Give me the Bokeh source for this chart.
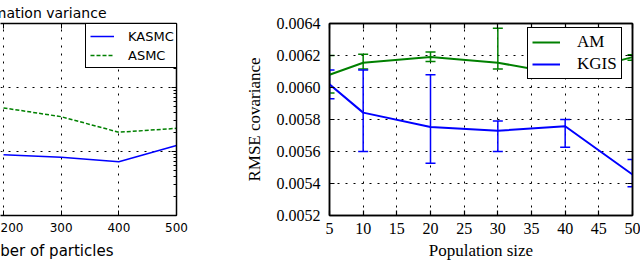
from bokeh.plotting import figure
from bokeh.layouts import row
from bokeh.models import (Range1d, LinearAxis, FixedTicker, LogTicker, Legend,
                          LegendItem, Title, CustomJSTickFormatter)
from bokeh.embed import file_html
from bokeh.resources import INLINE

# ---------------- left panel data (estimation variance) ----------------
particles = [200, 300, 400, 500]
kasmc = [8.9e-3, 8.1e-3, 6.9e-3, 1.24e-2]
asmc = [4.8e-2, 3.5e-2, 2.0e-2, 2.3e-2]
particle_ticks = [200, 300, 400, 500]

# ---------------- right panel data (RMSE covariance) ----------------
pop_size = [5, 10, 20, 30, 40, 50]
am_mean = [0.00608, 0.006155, 0.00619, 0.006155, 0.00608, 0.00619]
am_upper = [0.00620, 0.006208, 0.006222, 0.00637, 0.00610, 0.006205]
am_lower = [0.005965, 0.006115, 0.006162, 0.006115, 0.00607, 0.00617]
kgis_mean = [0.00602, 0.005843, 0.005753, 0.00573, 0.005758, 0.005456]
kgis_upper = [0.00611, 0.00611, 0.00608, 0.00579, 0.0058, 0.00555]
kgis_lower = [0.00593, 0.0056, 0.005526, 0.0056, 0.005627, 0.00538]
pop_ticks = [5, 10, 15, 20, 25, 30, 35, 40, 45, 50]
rmse_ticks = [0.0052, 0.0054, 0.0056, 0.0058, 0.0060, 0.0062, 0.0064]
rmse_labels = ["0.0052", "0.0054", "0.0056", "0.0058", "0.0060", "0.0062", "0.0064"]

BLUE = "#0000ff"
GREEN = "#008000"
SANS = "DejaVu Sans"
SERIF = "Liberation Serif"


def blank_labels(ax):
    ax.formatter = CustomJSTickFormatter(code="return ''")
    ax.major_label_standoff = 0
    ax.major_label_text_font_size = "1px"


# ======================= left figure =======================
p1 = figure(width=200, height=264, x_range=Range1d(194.8, 500),
            y_range=Range1d(1e-3, 1), y_axis_type="log",
            y_axis_location="right", output_backend="svg",
            toolbar_location=None, min_border_left=0, min_border_right=24,
            min_border_top=23, min_border_bottom=48)
p1.outline_line_color = None
p1.background_fill_color = "white"

p1.title.text = "Estimation variance"
p1.title.align = "right"
p1.title.offset = 70
p1.title.text_font = SANS
p1.title.text_font_size = "14px"
p1.title.text_font_style = "normal"
p1.title.text_color = "black"
p1.title.standoff = 2
p1.title.vertical_align = "top"

xa = p1.xaxis[0]
xa.ticker = FixedTicker(ticks=particle_ticks)
ya = p1.yaxis[0]
ya.ticker = LogTicker(num_minor_ticks=10)
top1 = LinearAxis(ticker=FixedTicker(ticks=particle_ticks))
p1.add_layout(top1, "above")

for ax in (xa, ya, top1):
    ax.axis_line_color = "black"
    ax.axis_line_width = 1.5
    ax.major_tick_in = 5
    ax.major_tick_out = 0
    ax.minor_tick_in = 3
    ax.minor_tick_out = 0
    ax.major_tick_line_color = "black"
    ax.minor_tick_line_color = "black"
xa.minor_tick_line_color = None
top1.minor_tick_line_color = None
xa.major_label_text_font = SANS
xa.major_label_text_font_size = "12px"
xa.major_label_text_color = "black"
xa.major_label_standoff = 7
blank_labels(ya)
blank_labels(top1)

xlab1 = Title(text="Number of particles", align="right", offset=63,
              text_font=SANS, text_font_size="15px", text_font_style="normal",
              text_color="black", standoff=10, vertical_align="bottom")
p1.add_layout(xlab1, "below")

for g in (p1.xgrid[0], p1.ygrid[0]):
    g.grid_line_color = "black"
    g.grid_line_dash = "2 6"
    g.grid_line_width = 1
p1.xgrid[0].ticker = FixedTicker(ticks=particle_ticks)

r_k = p1.line(particles, kasmc, line_color=BLUE, line_width=1.5)
r_a = p1.line(particles, asmc, line_color=GREEN, line_width=1.5,
              line_dash="4 2")

leg1 = Legend(items=[LegendItem(label="KASMC", renderers=[r_k]),
                     LegendItem(label="ASMC", renderers=[r_a])],
              location=(85, 147), padding=4, spacing=3, margin=0,
              label_height=16, glyph_height=16, glyph_width=24,
              label_standoff=14, border_line_color="black",
              border_line_width=1.5, border_line_alpha=1,
              background_fill_alpha=1, label_text_color="black",
              label_text_font=SANS, label_text_font_size="13px")
p1.add_layout(leg1, "center")

# ======================= right figure =======================
p2 = figure(width=440, height=264, x_range=Range1d(5, 50),
            y_range=Range1d(0.0052, 0.0064), output_backend="svg",
            toolbar_location=None, min_border_left=129, min_border_right=8,
            min_border_top=23, min_border_bottom=48)
p2.outline_line_color = "black"
p2.outline_line_width = 1.5

bx = p2.xaxis[0]
by = p2.yaxis[0]
bx.ticker = FixedTicker(ticks=pop_ticks)
by.ticker = FixedTicker(ticks=rmse_ticks)
by.major_label_overrides = {t: s for t, s in zip(rmse_ticks, rmse_labels)}
top2 = LinearAxis(ticker=FixedTicker(ticks=pop_ticks))
right2 = LinearAxis(ticker=FixedTicker(ticks=rmse_ticks))
p2.add_layout(top2, "above")
p2.add_layout(right2, "right")
for ax in (bx, by, top2, right2):
    ax.axis_line_color = "black"
    ax.axis_line_width = 1.5
    ax.major_tick_in = 5
    ax.major_tick_out = 0
    ax.minor_tick_line_color = None
    ax.major_tick_line_color = "black"
    ax.major_tick_line_width = 1.2
blank_labels(top2)
blank_labels(right2)
for ax in (bx, by):
    ax.major_label_text_font = SERIF
    ax.major_label_text_font_size = "16px"
    ax.major_label_text_color = "black"
    ax.axis_label_text_font = SERIF
    ax.axis_label_text_font_size = "17px"
    ax.axis_label_text_font_style = "normal"
    ax.axis_label_text_color = "black"
bx.major_label_standoff = 7
bx.axis_label_standoff = 4
by.major_label_standoff = 9
by.axis_label_standoff = 10
bx.axis_label = "Population size"
by.axis_label = "RMSE covariance"

for g in (p2.xgrid[0], p2.ygrid[0]):
    g.grid_line_color = "black"
    g.grid_line_dash = "2 6"
    g.grid_line_width = 1
p2.xgrid[0].ticker = FixedTicker(ticks=pop_ticks)
p2.ygrid[0].ticker = FixedTicker(ticks=rmse_ticks)

# error bars
p2.segment(x0=pop_size, y0=am_lower, x1=pop_size, y1=am_upper,
           line_color=GREEN, line_width=1.5)
p2.scatter(pop_size, am_upper, marker="dash", size=10, line_color=GREEN, line_width=1.5)
p2.scatter(pop_size, am_lower, marker="dash", size=10, line_color=GREEN, line_width=1.5)
p2.segment(x0=pop_size, y0=kgis_lower, x1=pop_size, y1=kgis_upper,
           line_color=BLUE, line_width=1.5)
p2.scatter(pop_size, kgis_upper, marker="dash", size=10, line_color=BLUE, line_width=1.5)
p2.scatter(pop_size, kgis_lower, marker="dash", size=10, line_color=BLUE, line_width=1.5)

r_am = p2.line(pop_size, am_mean, line_color=GREEN, line_width=2)
r_kg = p2.line(pop_size, kgis_mean, line_color=BLUE, line_width=2)

leg2 = Legend(items=[LegendItem(label="AM", renderers=[r_am]),
                     LegendItem(label="KGIS", renderers=[r_kg])],
              location=(198, 136), padding=4, spacing=2, margin=0,
              label_height=20, glyph_height=20, glyph_width=28,
              label_standoff=17, border_line_color="black",
              border_line_width=1.5, border_line_alpha=1,
              background_fill_alpha=1, label_text_color="black",
              label_text_font=SERIF, label_text_font_size="17px")
p2.add_layout(leg2, "center")

layout = row(p1, p2)
open("out.html", "w").write(file_html(layout, INLINE))
